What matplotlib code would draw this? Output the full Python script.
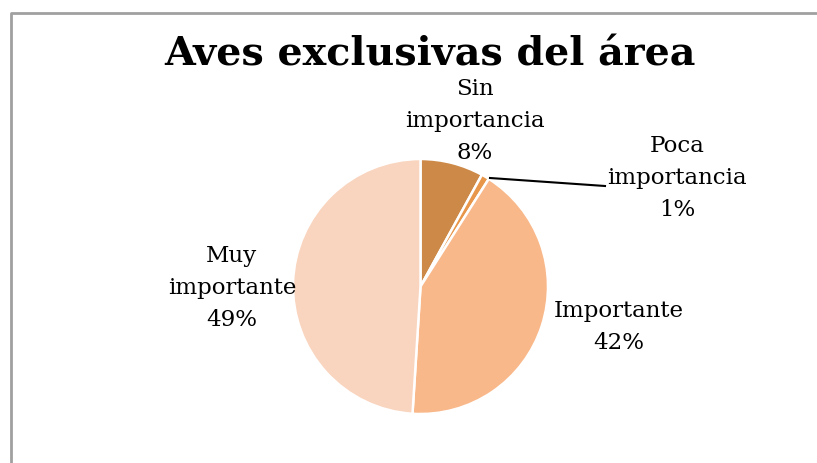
import matplotlib
matplotlib.use("Agg")
import matplotlib.pyplot as plt

categories = ["Sin\nimportancia", "Poca\nimportancia", "Importante", "Muy\nimportante"]
values = [8, 1, 42, 49]
colors = ["#CD8947", "#E8964A", "#F9B88A", "#F9D4BE"]
title = "Aves exclusivas del área"

W, H = 817, 463
fig = plt.figure(figsize=(W / 100, H / 100), dpi=100)
ax = fig.add_axes([0, 0, 1, 1])

# frame (only left and top edges visible in the crop)
ax.plot([11, 11, W], [0, H - 13, H - 13], color="#A0A0A0", lw=2, solid_capstyle="butt")

ax.pie(values, colors=colors, startangle=90, counterclock=False,
       center=(420.5, H - 286.5), radius=127.5,
       wedgeprops=dict(edgecolor="white", linewidth=1.8), frame=True)
ax.set_xlim(0, W)
ax.set_ylim(0, H)
ax.axis("off")

font = dict(family="DejaVu Serif", fontsize=16.5, ha="center", va="center",
            linespacing=1.6)
label_pos = [(475, 121), (677, 178), (619, 327), (232, 288)]
for (x, y), cat, v in zip(label_pos, categories, values):
    ax.text(x, H - y, f"{cat}\n{v}%", **font)

# leader line for the small slice
ax.plot([490, 605], [H - 178, H - 186], color="black", lw=1.5)

ax.text(430, H - 55, title, family="DejaVu Serif", fontweight="bold",
        fontsize=28.5, ha="center", va="center")

fig.savefig("out.png", dpi=100)
